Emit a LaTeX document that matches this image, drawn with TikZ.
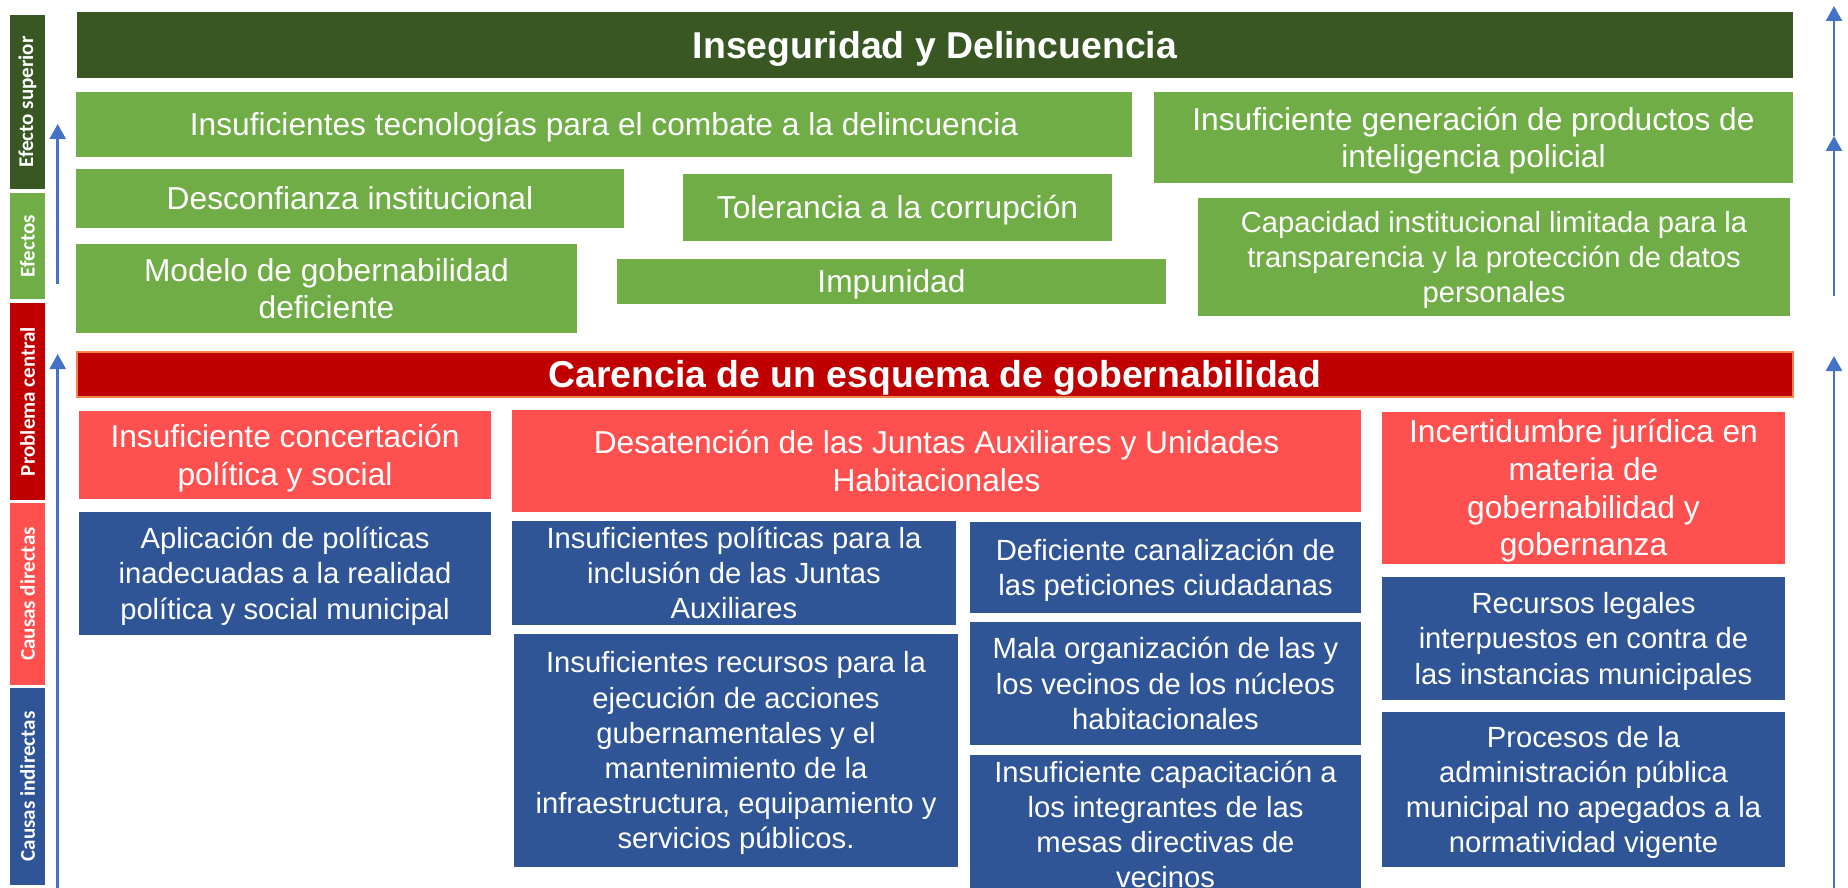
\documentclass[tikz,border=0pt]{standalone}
\usepackage{fontspec}
\setmainfont{Liberation Sans}
\newfontfamily\sidefont{Carlito}
\usepackage{tikz}
\usetikzlibrary{arrows.meta}
\definecolor{supgreen}{RGB}{56,87,35}
\definecolor{effgreen}{RGB}{112,173,71}
\definecolor{probred}{RGB}{192,0,0}
\definecolor{causered}{RGB}{255,80,80}
\definecolor{indblue}{RGB}{47,85,151}
\definecolor{flowblue}{RGB}{68,114,196}
\definecolor{rimorange}{RGB}{240,135,70}
\newcommand{\linestrut}{\rule[-0.2em]{0pt}{1.12em}}

\begin{document}
\begin{tikzpicture}[x=1pt, y=-1pt,
    every node/.style={text=white, inner sep=0pt, align=flush center},
    textbox/.style={rectangle, execute at begin node=\linestrut, execute at end node=\linestrut},
    wide/.style={minimum width=#1, text width=#1},
    smalltext/.style={font=\fontsize{29.2}{35.2}\selectfont},
    headbar/.style={textbox, wide=1716pt, font=\bfseries\fontsize{37.4}{44}\selectfont},
    effect/.style={textbox, fill=effgreen, font=\fontsize{31.7}{37.5}\selectfont},
    cause/.style={textbox, fill=causered, font=\fontsize{31.7}{37.8}\selectfont},
    subcause/.style={textbox, fill=indblue, smalltext},
    sidetag/.style={rectangle, rotate=90, minimum height=35pt, font=\sidefont\bfseries\fontsize{21}{25}\selectfont},
    uparrow/.style={draw=flowblue, line width=2.5pt, -{Triangle[width=16pt,length=15pt]}}
]
\useasboundingbox (0,0) rectangle (1848,888);
\node[sidetag, fill=supgreen, minimum width=174pt] (tagsup) at (27.5,102) {Efecto superior};
\node[sidetag, fill=effgreen, minimum width=106pt] (tageff) at (27.5,246) {Efectos};
\node[sidetag, fill=probred, minimum width=197pt] (tagprob) at (27.5,401.5) {Problema central};
\node[sidetag, fill=causered, minimum width=182pt] (tagdir) at (27.5,594) {Causas directas};
\node[sidetag, fill=indblue, minimum width=197pt] (tagind) at (27.5,786.5) {Causas indirectas};

\node[headbar, fill=supgreen, minimum height=66pt] (insec) at (935,45) {Inseguridad y Delincuencia};
\node[effect, wide=1056pt, minimum height=65pt] (tech) at (604,124.5) {Insuficientes tecnologías para el combate a la delincuencia};
\node[effect, wide=639pt, minimum height=91pt] (intel) at (1473.5,137.5) {Insuficiente generación de productos de\\inteligencia policial};
\node[effect, wide=548pt, minimum height=59pt] (distrust) at (350,198.5) {Desconfianza institucional};
\node[effect, wide=429pt, minimum height=67pt] (toler) at (897.5,207.5) {Tolerancia a la corrupción};
\node[effect, wide=501pt, minimum height=89pt] (model) at (326.5,288.5) {Modelo de gobernabilidad\\deficiente};
\node[effect, wide=549pt, minimum height=45pt] (impun) at (891.5,281.5) {Impunidad};
\node[effect, smalltext, wide=592pt, minimum height=118pt] (transp) at (1494,257) {Capacidad institucional limitada para la\\transparencia y la protección de datos\\personales};

\node[headbar, fill=probred, draw=rimorange, line width=1.5pt, minimum height=45pt] (central) at (935,374.5) {Carencia de un esquema de gobernabilidad};

\node[cause, wide=412pt, minimum height=88pt] (concert) at (285,455) {Insuficiente concertación\\política y social};
\node[cause, wide=849pt, minimum height=102pt] (juntas) at (936.5,461) {Desatención de las Juntas Auxiliares y Unidades\\Habitacionales};
\node[cause, wide=403pt, minimum height=152pt] (legal) at (1583.5,488) {Incertidumbre jurídica en\\materia de\\gobernabilidad y\\gobernanza};

\node[subcause, wide=412pt, minimum height=123pt] (policies) at (285,573.5) {Aplicación de políticas\\inadecuadas a la realidad\\política y social municipal};
\node[subcause, wide=444pt, minimum height=100pt] (inclusion) at (734,573) {Insuficientes políticas para la\\inclusión de las Juntas\\Auxiliares};
\node[subcause, wide=444pt, minimum height=233pt] (funds) at (736,750.5) {Insuficientes recursos para la\\ejecución de acciones\\gubernamentales y el\\mantenimiento de la\\infraestructura, equipamiento y\\servicios públicos.};
\node[subcause, wide=391pt, minimum height=91pt] (petitions) at (1165.5,567.5) {Deficiente canalización de\\las peticiones ciudadanas};
\node[subcause, wide=391pt, minimum height=123pt] (neighbours) at (1165.5,683.5) {Mala organización de las y\\los vecinos de los núcleos\\habitacionales};
\node[subcause, wide=391pt, minimum height=139pt] (training) at (1165.5,824.5) {Insuficiente capacitación a\\los integrantes de las\\mesas directivas de\\vecinos};
\node[subcause, wide=403pt, minimum height=123pt] (appeals) at (1583.5,638.5) {Recursos legales\\interpuestos en contra de\\las instancias municipales};
\node[subcause, wide=403pt, minimum height=155pt] (processes) at (1583.5,789.5) {Procesos de la\\administración pública\\municipal no apegados a la\\normatividad vigente};

\coordinate (leftlow) at (57.7,888);
\coordinate (leftmid) at (57.7,354);
\coordinate (leftbase) at (57.7,284);
\coordinate (lefttop) at (57.7,124);
\coordinate (rightlow) at (1834,888);
\coordinate (rightmid) at (1834,356);
\coordinate (rightbase) at (1834,296);
\coordinate (rightknee) at (1834,136);
\coordinate (righttop) at (1834,6);
\draw[uparrow] (leftlow) -- (leftmid);
\draw[uparrow] (leftbase) -- (lefttop);
\draw[uparrow] (rightlow) -- (rightmid);
\draw[uparrow] (rightbase) -- (rightknee);
\draw[uparrow] (rightknee) -- (righttop);
\end{tikzpicture}
\end{document}
